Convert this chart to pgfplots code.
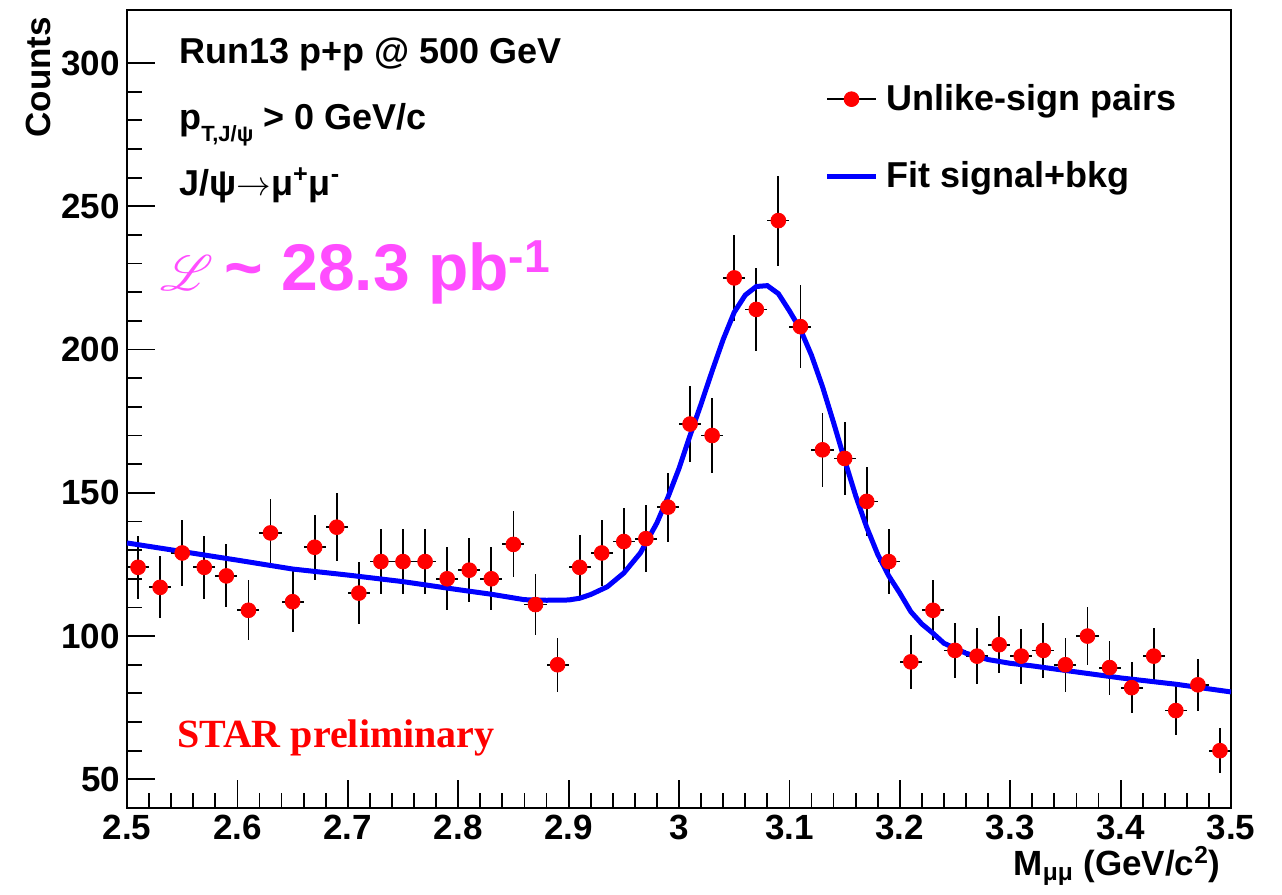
\documentclass[border=0pt]{standalone}
\usepackage{pgfplots}
\pgfplotsset{compat=1.18}
\usepackage{pgfplotstable}
\usepackage{fontspec}
\usepackage{mathrsfs}
\setmainfont{Liberation Sans}
\newfontfamily\timesfont{Liberation Serif}
\definecolor{lumi}{RGB}{255,77,255}

\pgfplotstableread{
x y ey
2.51 124 11.1
2.53 117 10.8
2.55 129 11.4
2.57 124 11.1
2.59 121 11.0
2.61 109 10.4
2.63 136 11.7
2.65 112 10.6
2.67 131 11.4
2.69 138 11.8
2.71 115 10.7
2.73 126 11.2
2.75 126 11.2
2.77 126 11.2
2.79 120 11.0
2.81 123 11.1
2.83 120 11.0
2.85 132 11.5
2.87 111 10.6
2.89 90 9.5
2.91 124 11.2
2.93 129 11.4
2.95 133 11.6
2.97 134 11.6
2.99 145 12.0
3.01 174 13.2
3.03 170 13.0
3.05 225 15.0
3.07 214 14.6
3.09 245 15.7
3.11 208 14.4
3.13 165 12.9
3.15 162 12.7
3.17 147 12.1
3.19 126 11.2
3.21 91 9.5
3.23 109 10.4
3.25 95 9.7
3.27 93 9.7
3.29 97 9.9
3.31 93 9.6
3.33 95 9.7
3.35 90 9.5
3.37 100 10.0
3.39 89 9.4
3.41 82 9.0
3.43 93 9.7
3.45 74 8.6
3.47 83 9.1
3.49 60 7.8
}\datatab

\pgfplotstableread{
x y
2.50 132.5
2.55 129.5
2.60 126.5
2.65 123.4
2.70 121.3
2.75 119.0
2.80 116.2
2.83 114.6
2.86 112.7
2.88 112.5
2.90 112.6
2.91 113.2
2.92 114.5
2.935 117.2
2.95 122.0
2.965 129.0
2.98 139.5
2.99 148.5
3.00 158.5
3.01 170.0
3.02 181.0
3.03 192.5
3.04 203.5
3.05 213.0
3.06 219.0
3.07 222.0
3.08 222.3
3.09 219.5
3.10 213.5
3.11 207.0
3.12 198.0
3.13 187.0
3.14 174.5
3.15 161.5
3.16 149.0
3.17 138.0
3.18 128.5
3.19 121.0
3.20 115.0
3.21 108.5
3.22 104.2
3.23 101.0
3.24 97.5
3.26 94.0
3.28 91.8
3.30 90.5
3.32 89.6
3.35 88.0
3.40 85.4
3.45 83.2
3.50 80.5
}\fittab

\begin{document}
\begin{tikzpicture}
\begin{axis}[
  name=ax,
  scale only axis,
  width=552pt, height=399pt,
  xmin=2.5, xmax=3.5, ymin=40, ymax=318.5,
  xtick={2.5,2.6,2.7,2.8,2.9,3,3.1,3.2,3.3,3.4,3.5},
  ytick={50,100,150,200,250,300},
  minor x tick num=4,
  minor y tick num=4,
  tick pos=left,
  major tick length=14pt,
  minor tick length=7.5pt,
  axis line style={line width=0.9pt},
  tick style={line width=0.9pt, black},
  /pgf/number format/assume math mode=true,
  tick label style={font=\fontsize{17.5}{17.5}\selectfont\bfseries},
  ylabel={Counts},
  ylabel style={at={(axis description cs:-0.0806,1)}, anchor=east, font=\fontsize{17.5}{17.5}\selectfont\bfseries},
  xlabel={M\textsubscript{μμ} (GeV/c\textsuperscript{2})},
  xlabel style={at={(axis description cs:0.997,-0.0727)}, anchor=east, font=\fontsize{17.5}{17.5}\selectfont\bfseries},
  legend cell align=left,
  legend style={at={(axis description cs:0.626,0.917)}, anchor=north west, draw=none, fill=none,
    font=\fontsize{18}{18}\selectfont\bfseries, row sep=20pt,
    nodes={inner sep=2pt}},
]
\addplot[only marks, mark=*, mark size=3.7pt, color=red,
  legend image code/.code={\draw[black, line width=0.9pt] (0pt,0pt) -- (24.5pt,0pt); \fill[red] (12.25pt,0pt) circle (3.7pt);},
  error bars/.cd, y dir=both, y explicit, x dir=both, x fixed=0.01,
  error bar style={black, line width=0.9pt}, error mark=none]
  table[x=x, y=y, y error=ey] {\datatab};
\addlegendentry{\hspace{2pt}Unlike-sign pairs}
\addplot[blue, line width=2.5pt, no marks,
  legend image code/.code={\draw[blue, line width=2.5pt] (0pt,0pt) -- (24.5pt,0pt);}]
  table[x=x, y=y] {\fittab};
\addlegendentry{\hspace{2pt}Fit signal+bkg}

\node[anchor=base west, font=\fontsize{18}{18}\selectfont\bfseries] at (axis description cs:0.041,0.933) {Run13 p+p @ 500 GeV};
\node[anchor=base west, font=\fontsize{18}{18}\selectfont\bfseries] at (axis description cs:0.041,0.850) {p\raisebox{-0.6ex}{\fontsize{11}{11}\selectfont T,J/ψ} > 0 GeV/c};
\node[anchor=base west, font=\fontsize{18}{18}\selectfont\bfseries] at (axis description cs:0.041,0.768) {J/ψ$\rightarrow$μ\textsuperscript{+}μ\textsuperscript{-}};
\node[anchor=base west, text=lumi, font=\fontsize{33}{33}\selectfont\bfseries] at (axis description cs:0.024,0.649) {$\mathscr{L}$\,\textasciitilde\ 28.3 pb\textsuperscript{-1}};
\node[anchor=base west, text=red, font=\timesfont\fontsize{20}{20}\selectfont\bfseries] at (axis description cs:0.039,0.0764) {STAR preliminary};
\end{axis}
\pgfresetboundingbox
\path ([shift={(-63.5pt,-43pt)}]ax.south west) rectangle ([shift={(25.5pt,5pt)}]ax.north east);
\end{tikzpicture}
\end{document}
